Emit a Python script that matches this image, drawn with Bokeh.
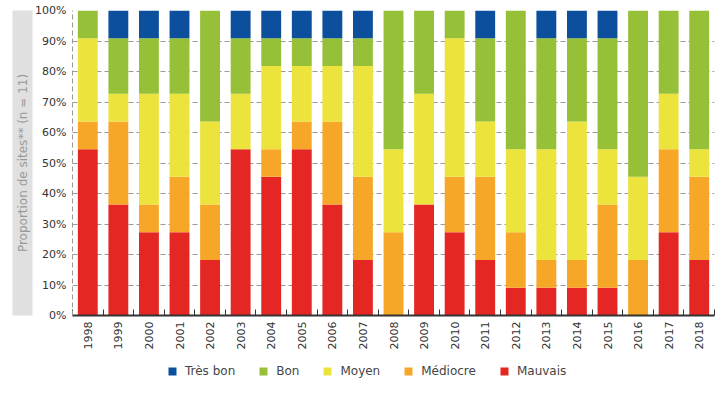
from bokeh.plotting import figure
from bokeh.layouts import column
from bokeh.models import (ColumnDataSource, FixedTicker, Legend, LegendItem, Title,
                          NumeralTickFormatter, Range1d, LinearAxis)
from bokeh.embed import file_html
from bokeh.resources import INLINE

years = ["1998", "1999", "2000", "2001", "2002", "2003", "2004", "2005", "2006", "2007",
         "2008", "2009", "2010", "2011", "2012", "2013", "2014", "2015", "2016", "2017", "2018"]
n_sites = 11
mauvais  = [6, 4, 3, 3, 2, 6, 5, 6, 4, 2, 0, 4, 3, 2, 1, 1, 1, 1, 0, 3, 2]
mediocre = [1, 3, 1, 2, 2, 0, 1, 1, 3, 3, 3, 0, 2, 3, 2, 1, 1, 3, 2, 3, 3]
moyen    = [3, 1, 4, 3, 3, 2, 3, 2, 2, 4, 3, 4, 5, 2, 3, 4, 5, 2, 3, 2, 1]
bon      = [1, 2, 2, 2, 4, 2, 1, 1, 1, 1, 5, 3, 1, 3, 5, 4, 3, 4, 6, 3, 5]
tres_bon = [0, 1, 1, 1, 0, 1, 1, 1, 1, 1, 0, 0, 0, 1, 0, 1, 1, 1, 0, 0, 0]

classes = ["Mauvais", "Médiocre", "Moyen", "Bon", "Très bon"]
counts = [mauvais, mediocre, moyen, bon, tres_bon]
colors = ["#e52724", "#f6a727", "#ece43c", "#95c037", "#0c4f9c"]
y_label = "Proportion de sites** (n = 11)"

data = {"x": list(range(len(years)))}
for name, c in zip(classes, counts):
    data[name] = [v / n_sites for v in c]
source = ColumnDataSource(data)

FONT = "DejaVu Sans"

p = figure(width=717, height=357, output_backend="svg", toolbar_location=None,
           x_range=Range1d(-0.5, len(years) - 0.5), y_range=Range1d(0, 1))
p.min_border_top = 10
p.min_border_right = 3
p.min_border_left = 72
p.min_border_bottom = 42
p.outline_line_color = None

p.vbar_stack(classes, x="x", width=0.65, source=source, color=colors, line_color=None)

# y axis
p.yaxis.ticker = FixedTicker(ticks=[i / 10 for i in range(11)])
p.yaxis.formatter = NumeralTickFormatter(format="0%")
p.yaxis.major_tick_line_color = None
p.yaxis.major_tick_in = 0
p.yaxis.major_tick_out = 0
p.yaxis.minor_tick_line_color = None
p.yaxis.axis_line_color = "#999999"
p.yaxis.axis_line_dash = "5 3"
p.yaxis.major_label_text_font = FONT
p.yaxis.major_label_text_font_size = "11px"
p.yaxis.major_label_text_color = "#333333"
p.yaxis.major_label_standoff = 6

p.ygrid.ticker = FixedTicker(ticks=[i / 10 for i in range(1, 11)])
p.ygrid.grid_line_color = "#999999"
p.ygrid.grid_line_dash = "5 3"
p.xgrid.grid_line_color = None

# x axis
p.xaxis.ticker = FixedTicker(ticks=list(range(len(years))),
                             minor_ticks=[i - 0.5 for i in range(len(years) + 1)])
p.xaxis.major_label_overrides = {i: y for i, y in enumerate(years)}
p.xaxis.major_label_orientation = 1.5708
p.xaxis.major_tick_line_color = None
p.xaxis.major_tick_in = 0
p.xaxis.major_tick_out = 0
p.xaxis.minor_tick_line_color = "#333333"
p.xaxis.minor_tick_in = 6
p.xaxis.minor_tick_out = 0
p.xaxis.axis_line_color = "#333333"
p.xaxis.axis_line_width = 2
p.xaxis.major_label_text_font = FONT
p.xaxis.major_label_text_font_size = "11px"
p.xaxis.major_label_text_color = "#333333"
p.xaxis.major_label_standoff = 6

# y label in a grey band spanning the plot height
if "background_fill_color" in LinearAxis.properties():
    band = LinearAxis(ticker=FixedTicker(ticks=[]), axis_line_color=None,
                      major_tick_line_color=None, minor_tick_line_color=None,
                      major_tick_in=0, major_tick_out=0,
                      major_label_text_font_size="0px",
                      axis_label=y_label, axis_label_standoff=3,
                      axis_label_text_font=FONT, axis_label_text_font_size="12px",
                      axis_label_text_font_style="normal",
                      axis_label_text_color="#999999",
                      background_fill_color="#e0e0e0")
    p.add_layout(band, "left")
else:
    p.add_layout(Title(text=y_label, align="center", text_font=FONT,
                       text_font_size="12px", text_font_style="normal",
                       text_color="#999999", background_fill_color="#e0e0e0"), "left")

# legend in its own strip under the chart (frames are aligned by the column)
q = figure(width=717, height=35, output_backend="svg", toolbar_location=None,
           x_range=Range1d(0, 1), y_range=Range1d(0, 1),
           x_axis_type=None, y_axis_type=None)
q.min_border = 0
q.min_border_left = 72
q.min_border_right = 3
q.outline_line_color = None
q.grid.visible = False
nan = float("nan")
items = []
for cl, col in zip(classes, colors):
    r = q.quad(left=[nan], right=[nan], top=[nan], bottom=[nan],
               fill_color=col, line_color=None)
    items.append(LegendItem(label=cl, renderers=[r]))
legend = Legend(items=items[::-1], orientation="horizontal", location=(95, 14),
                border_line_color=None, background_fill_alpha=0,
                label_text_font=FONT, label_text_font_size="12px",
                label_text_color="#444444", glyph_width=10, glyph_height=10,
                label_height=12, label_standoff=8, spacing=23, margin=0, padding=0)
q.add_layout(legend, "center")

layout = column(p, q, spacing=0)
open("out.html", "w").write(file_html(layout, INLINE))
